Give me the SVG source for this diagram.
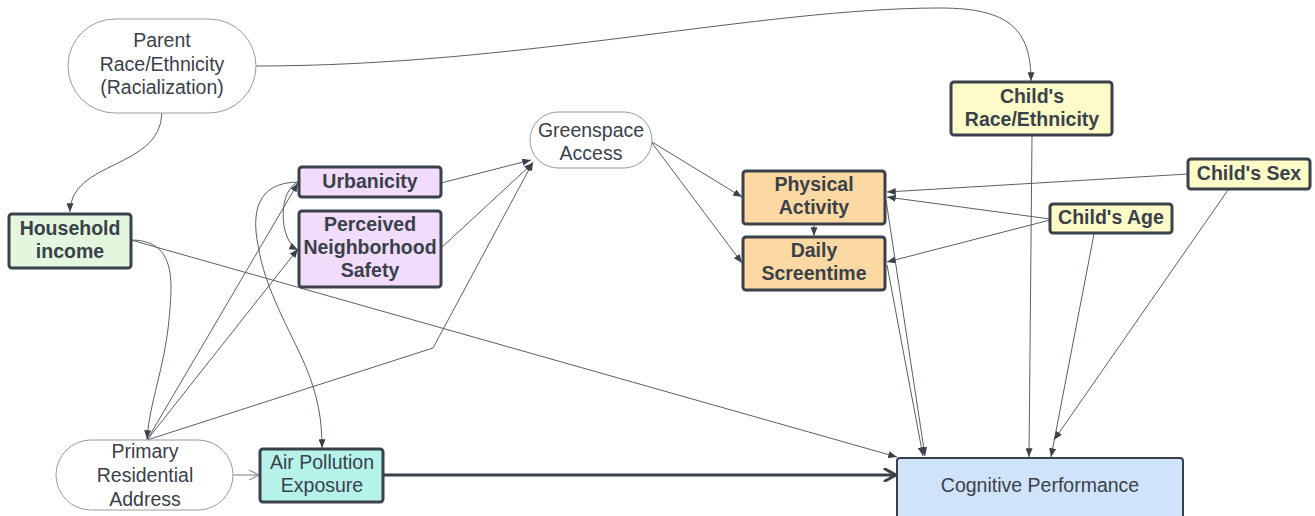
<svg xmlns="http://www.w3.org/2000/svg" width="1315" height="516" viewBox="0 0 1315 516">
<style>
.t{font-family:"Liberation Sans",Arial,sans-serif;font-size:19.5px;fill:#3a414a;text-anchor:middle}
.b{font-family:"Liberation Sans",Arial,sans-serif;font-size:19.5px;font-weight:bold;fill:#3a414a;text-anchor:middle}
.pill{fill:#ffffff;stroke:#9a9a9a;stroke-width:1}
.box{stroke:#3a414a;stroke-width:3}
.c{fill:none;stroke:#5a5f66;stroke-width:1;marker-end:url(#arr)}
</style>
<defs>
<marker id="arr" viewBox="0 0 10 8" refX="10" refY="4" markerWidth="9" markerHeight="7" markerUnits="userSpaceOnUse" orient="auto">
<path d="M0,0 L10,4 L0,8 z" fill="#3a414a"/>
</marker>
<marker id="thick" viewBox="0 0 14 14" refX="13" refY="7" markerWidth="14" markerHeight="14" markerUnits="userSpaceOnUse" orient="auto">
<path d="M2,1 L13,7 L2,13" fill="none" stroke="#3a414a" stroke-width="3" stroke-linejoin="round" stroke-linecap="round"/>
</marker>
<marker id="open" viewBox="0 0 12 12" refX="11" refY="6" markerWidth="12" markerHeight="12" markerUnits="userSpaceOnUse" orient="auto">
<path d="M1,1 L11,6 L1,11" fill="none" stroke="#9a9a9a" stroke-width="1.3"/>
</marker>
</defs>
<rect width="1315" height="516" fill="#ffffff"/>
<g id="connectors">
<path class="c" d="M162,113 C160,170 70,160 70,212"/>
<path class="c" d="M256,66 C520,66 760,8 940,8 C1010,8 1031,30 1031,81"/>
<path class="c" d="M131,240 C178,240 172,285 169,320 C164,370 150,400 147,439"/>
<path class="c" d="M131,240 L897,457"/>
<path class="c" d="M147,440 L298,183"/>
<path class="c" d="M147,440 L298,249"/>
<path class="c" d="M147,440 L433,348 L533,162"/>
<path class="c" d="M441,183 L531,160"/>
<path class="c" d="M441,248 L533,163"/>
<path class="c" d="M299,182 C255,182 252,215 258,245 C265,290 290,330 305,365 C318,395 322,420 322,448"/>
<path class="c" d="M299,182 C278,188 278,240 298,250"/>
<path class="c" d="M652,142 L742,197"/>
<path class="c" d="M652,143 L742,263"/>
<path class="c" d="M814,224 L814,236"/>
<path class="c" d="M1188,174 L887,192"/>
<path class="c" d="M1050,219 L887,197"/>
<path class="c" d="M1050,220 L887,262"/>
<path class="c" d="M1094,234 L1051,457"/>
<path class="c" d="M1228,190 L1054,440"/>
<path class="c" d="M1032,136 L1029,457"/>
<path class="c" d="M886,200 L925,456"/>
<path class="c" d="M887,265 L923,456"/>
<path d="M383,475 L896,475" fill="none" stroke="#3a414a" stroke-width="3" marker-end="url(#thick)"/>
<path d="M233,475 L259,475" fill="none" stroke="#9a9a9a" stroke-width="1.3" marker-end="url(#open)"/>
</g>
<g id="parent-race">
<rect class="pill" x="68" y="19" width="188" height="94" rx="47"/>
<text class="t" x="162" y="47">Parent</text>
<text class="t" x="162" y="71">Race/Ethnicity</text>
<text class="t" x="162" y="94">(Racialization)</text>
</g>
<g id="household-income">
<rect class="box" x="9" y="214" width="122" height="54" rx="3" fill="#e2f7dd"/>
<text class="b" x="70" y="235">Household</text>
<text class="b" x="70" y="258">income</text>
</g>
<g id="urbanicity">
<rect class="box" x="299" y="167" width="142" height="30" rx="3" fill="#f1dcfb"/>
<text class="b" x="370" y="188">Urbanicity</text>
</g>
<g id="neighborhood-safety">
<rect class="box" x="299" y="211" width="142" height="76" rx="3" fill="#f1dcfb"/>
<text class="b" x="370" y="231">Perceived</text>
<text class="b" x="370" y="254">Neighborhood</text>
<text class="b" x="370" y="277">Safety</text>
</g>
<g id="greenspace">
<rect class="pill" x="530" y="112" width="122" height="56" rx="28"/>
<text class="t" x="591" y="137">Greenspace</text>
<text class="t" x="591" y="160">Access</text>
</g>
<g id="physical-activity">
<rect class="box" x="743" y="171" width="142" height="53" rx="3" fill="#fcd9a2"/>
<text class="b" x="814" y="191">Physical</text>
<text class="b" x="814" y="214">Activity</text>
</g>
<g id="daily-screentime">
<rect class="box" x="743" y="237" width="142" height="53" rx="3" fill="#fcd9a2"/>
<text class="b" x="814" y="257">Daily</text>
<text class="b" x="814" y="280">Screentime</text>
</g>
<g id="child-race">
<rect class="box" x="951" y="82" width="161" height="53" rx="3" fill="#fdfbc8"/>
<text class="b" x="1032" y="103">Child's</text>
<text class="b" x="1032" y="126">Race/Ethnicity</text>
</g>
<g id="child-sex">
<rect class="box" x="1188" y="159" width="122" height="30" rx="3" fill="#fdfbc8"/>
<text class="b" x="1249" y="180">Child's Sex</text>
</g>
<g id="child-age">
<rect class="box" x="1050" y="204" width="122" height="29" rx="3" fill="#fdfbc8"/>
<text class="b" x="1111" y="224">Child's Age</text>
</g>
<g id="residential-address">
<rect class="pill" x="56" y="440" width="177" height="70" rx="35"/>
<text class="t" x="145" y="458">Primary</text>
<text class="t" x="145" y="482">Residential</text>
<text class="t" x="145" y="506">Address</text>
</g>
<g id="air-pollution">
<rect class="box" x="260" y="449" width="123" height="53" rx="3" fill="#b5f2ea" stroke-width="2.5"/>
<text class="t" x="322" y="469">Air Pollution</text>
<text class="t" x="322" y="492">Exposure</text>
</g>
<g id="cognitive-performance">
<rect x="897" y="458" width="286" height="64" rx="3" fill="#cfe3fb" stroke="#3a414a" stroke-width="2"/>
<text class="t" x="1040" y="492">Cognitive Performance</text>
</g>
</svg>
